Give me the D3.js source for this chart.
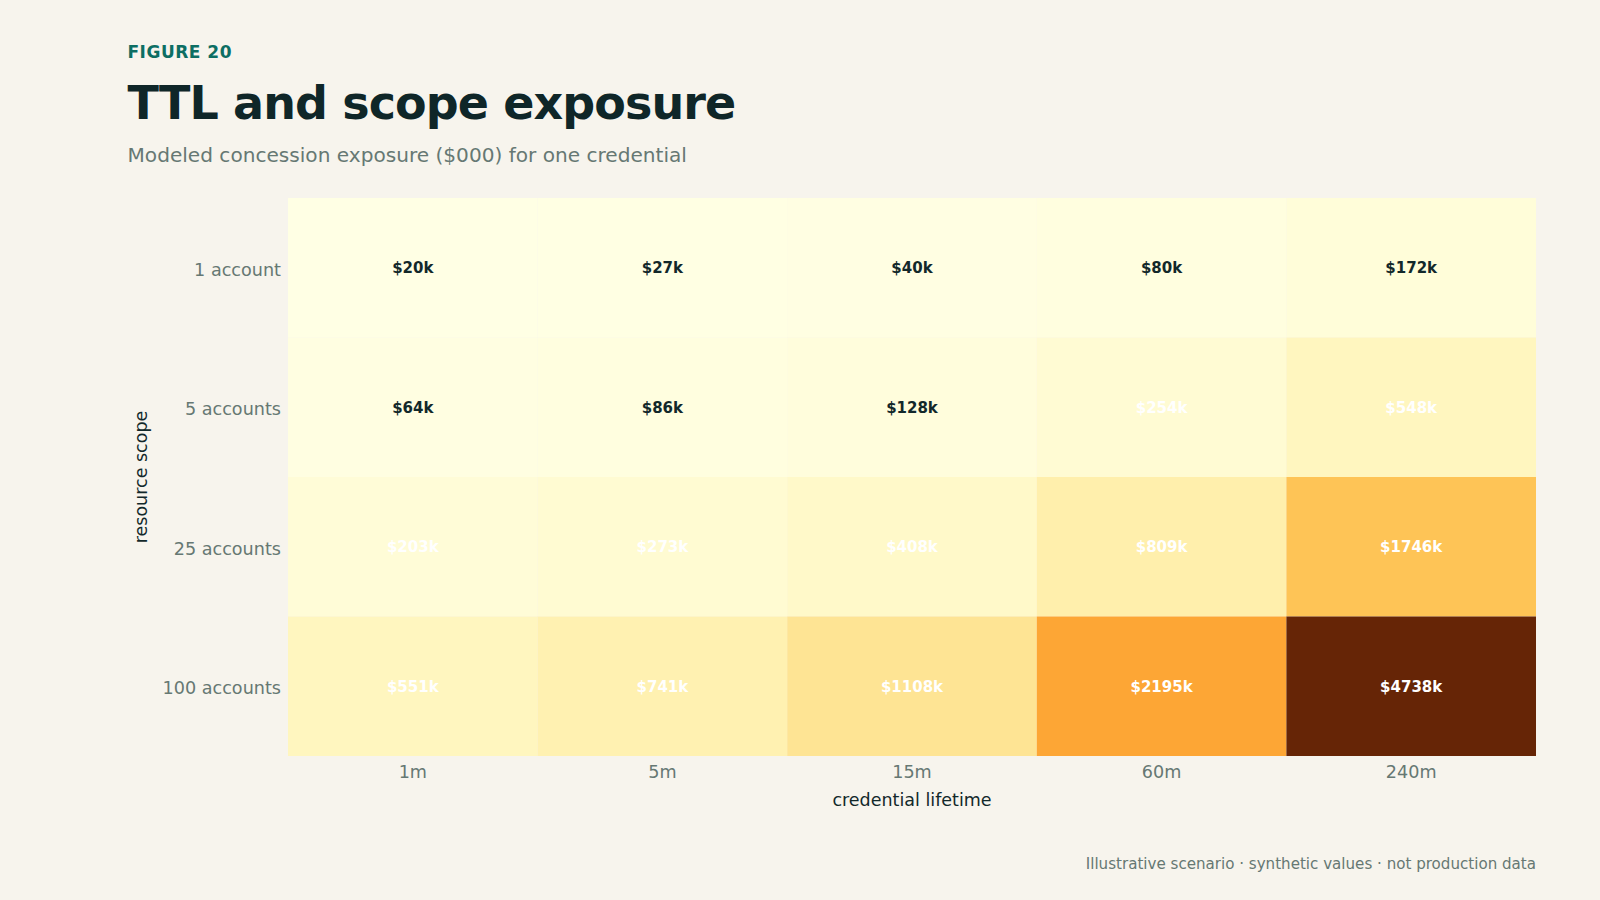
<!DOCTYPE html>
<html>
<head>
<meta charset="utf-8">
<script src="https://cdn.jsdelivr.net/npm/d3@7"></script>
<style>
  body { margin: 0; background: #f7f4ed; font-family: "DejaVu Sans", sans-serif; }
</style>
</head>
<body>
<script>
// heatmap of modeled exposure, scope x lifetime

var width = 1600;
var height = 900;

var lifetimes = ["1m", "5m", "15m", "60m", "240m"];
var scopes = ["1 account", "5 accounts", "25 accounts", "100 accounts"];
// values in $000, one row per scope
var row1 = [20, 27, 40, 80, 172];
var row5 = [64, 86, 128, 254, 548];
var row25 = [203, 273, 408, 809, 1746];
var row100 = [551, 741, 1108, 2195, 4738];
var rows = [row1, row5, row25, row100];

var margin = { top: 198, right: 64, bottom: 144, left: 288 };

var svg = d3.select("body").append("svg")
  .attr("width", width)
  .attr("height", height);

svg.append("rect").attr("width", width).attr("height", height).attr("fill", "#f7f4ed");

// header text
svg.append("text")
  .attr("x", 127.5).attr("y", 58)
  .attr("fill", "#0d6e63")
  .style("font-size", "17px").style("font-weight", "bold").style("letter-spacing", "0.5px")
  .text("FIGURE 20");

svg.append("text")
  .attr("x", 127.5).attr("y", 119)
  .attr("fill", "#0f2628")
  .style("font-size", "46px").style("font-weight", "bold").style("letter-spacing", "-0.9px")
  .text("TTL and scope exposure");

svg.append("text")
  .attr("x", 127.5).attr("y", 162)
  .attr("fill", "#667873")
  .style("font-size", "20.1px")
  .text("Modeled concession exposure ($000) for one credential");

var x = d3.scaleBand().domain(lifetimes).range([margin.left, width - margin.right]).padding(0);
var y = d3.scaleBand().domain(scopes).range([margin.top, height - margin.bottom]).padding(0);

var maxVal = d3.max(rows, function(r) { return d3.max(r); });
var color = d3.scaleSequential(d3.interpolateYlOrBr).domain([0, maxVal]);

// flatten into cells
var cells = [];
rows.forEach(function(r, i) {
  r.forEach(function(v, j) {
    cells.push({ scope: scopes[i], ttl: lifetimes[j], value: v });
  });
});

var g = svg.append("g");

g.selectAll("rect.cell").data(cells).enter().append("rect")
  .attr("class", "cell")
  .attr("x", function(d) { return x(d.ttl); })
  .attr("y", function(d) { return y(d.scope); })
  .attr("width", x.bandwidth())
  .attr("height", y.bandwidth())
  .attr("fill", function(d) { return color(d.value); });

g.selectAll("text.val").data(cells).enter().append("text")
  .attr("class", "val")
  .attr("x", function(d) { return x(d.ttl) + x.bandwidth() / 2; })
  .attr("y", function(d) { return y(d.scope) + y.bandwidth() / 2; })
  .attr("dy", "0.35em")
  .attr("text-anchor", "middle")
  .attr("fill", function(d) { return d.value > 190 ? "#ffffff" : "#12282a"; })
  .style("font-size", "15px").style("font-weight", "bold")
  .text(function(d) { return "$" + d.value + "k"; });

// axes
var xAxis = svg.append("g")
  .attr("transform", "translate(0," + (height - margin.bottom) + ")")
  .call(d3.axisBottom(x).tickSize(0).tickPadding(10));
var yAxis = svg.append("g")
  .attr("transform", "translate(" + margin.left + ",2.5)")
  .call(d3.axisLeft(y).tickSize(0).tickPadding(7));

[xAxis, yAxis].forEach(function(a) {
  a.select(".domain").remove();
  a.selectAll("text")
    .attr("fill", "#667873")
    .style("font-size", "17.6px")
    .style("font-family", "DejaVu Sans, sans-serif");
});

svg.append("text")
  .attr("x", (margin.left + width - margin.right) / 2)
  .attr("y", 806)
  .attr("text-anchor", "middle")
  .attr("fill", "#12282a")
  .style("font-size", "17.5px")
  .text("credential lifetime");

svg.append("text")
  .attr("transform", "translate(147," + ((margin.top + height - margin.bottom) / 2) + ") rotate(-90)")
  .attr("text-anchor", "middle")
  .attr("fill", "#12282a")
  .style("font-size", "17.5px")
  .text("resource scope");

svg.append("text")
  .attr("x", width - margin.right)
  .attr("y", 869)
  .attr("text-anchor", "end")
  .attr("fill", "#667873")
  .style("font-size", "15.1px")
  .text("Illustrative scenario · synthetic values · not production data");
</script>
</body>
</html>
